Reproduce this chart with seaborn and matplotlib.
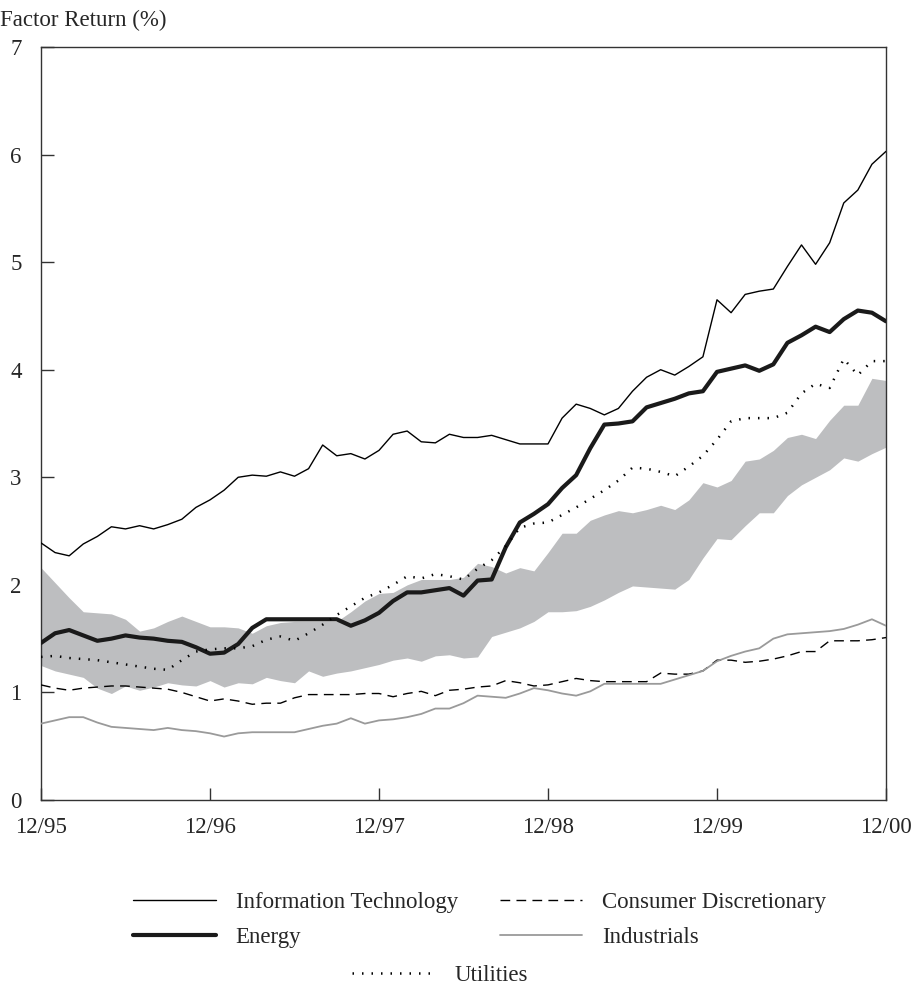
import pandas as pd
import seaborn as sns
import matplotlib.pyplot as plt
from matplotlib.lines import Line2D

# Monthly points, 12/95 .. 12/00
months = list(range(61))
tick_months = [0, 12, 24, 36, 48, 60]
tick_labels = ['12/95', '12/96', '12/97', '12/98', '12/99', '12/00']

info_tech = [2.39, 2.30, 2.27, 2.38, 2.45, 2.54, 2.52, 2.55, 2.52, 2.56,
             2.61, 2.72, 2.79, 2.88, 3.00, 3.02, 3.01, 3.05, 3.01, 3.08,
             3.30, 3.20, 3.22, 3.17, 3.25, 3.40, 3.43, 3.33, 3.32, 3.40,
             3.37, 3.37, 3.39, 3.35, 3.31, 3.31, 3.31, 3.55, 3.68, 3.64,
             3.58, 3.64, 3.80, 3.93, 4.00, 3.95, 4.03, 4.12, 4.65, 4.53,
             4.70, 4.73, 4.75, 4.96, 5.16, 4.98, 5.18, 5.55, 5.67, 5.91, 6.03]
energy = [1.46, 1.55, 1.58, 1.53, 1.48, 1.50, 1.53, 1.51, 1.50, 1.48,
          1.47, 1.42, 1.36, 1.37, 1.45, 1.60, 1.68, 1.68, 1.68, 1.68,
          1.68, 1.68, 1.62, 1.67, 1.74, 1.85, 1.93, 1.93, 1.95, 1.97,
          1.90, 2.04, 2.05, 2.35, 2.58, 2.66, 2.75, 2.90, 3.02, 3.27,
          3.49, 3.50, 3.52, 3.65, 3.69, 3.73, 3.78, 3.80, 3.98, 4.01,
          4.04, 3.99, 4.05, 4.25, 4.32, 4.40, 4.35, 4.47, 4.55, 4.53, 4.45]
utilities = [1.33, 1.34, 1.32, 1.31, 1.30, 1.28, 1.26, 1.24, 1.22, 1.21,
             1.30, 1.38, 1.40, 1.41, 1.41, 1.43, 1.49, 1.52, 1.48, 1.55,
             1.63, 1.72, 1.80, 1.88, 1.93, 2.00, 2.08, 2.06, 2.10, 2.08,
             2.05, 2.15, 2.23, 2.36, 2.53, 2.57, 2.58, 2.65, 2.72, 2.80,
             2.88, 2.97, 3.09, 3.08, 3.05, 3.01, 3.10, 3.20, 3.35, 3.52,
             3.55, 3.55, 3.55, 3.60, 3.78, 3.87, 3.83, 4.10, 3.95, 4.08, 4.08]
cons_disc = [1.07, 1.04, 1.02, 1.04, 1.05, 1.06, 1.06, 1.05, 1.04, 1.03,
             1.00, 0.96, 0.92, 0.94, 0.92, 0.89, 0.90, 0.90, 0.95, 0.98,
             0.98, 0.98, 0.98, 0.99, 0.99, 0.96, 0.99, 1.01, 0.97, 1.02,
             1.03, 1.05, 1.06, 1.11, 1.09, 1.06, 1.07, 1.10, 1.13, 1.11,
             1.10, 1.10, 1.10, 1.10, 1.18, 1.17, 1.17, 1.20, 1.30, 1.30,
             1.28, 1.29, 1.31, 1.34, 1.38, 1.38, 1.48, 1.48, 1.48, 1.49, 1.51]
industrials = [0.71, 0.74, 0.77, 0.77, 0.72, 0.68, 0.67, 0.66, 0.65, 0.67,
               0.65, 0.64, 0.62, 0.59, 0.62, 0.63, 0.63, 0.63, 0.63, 0.66,
               0.69, 0.71, 0.76, 0.71, 0.74, 0.75, 0.77, 0.80, 0.85, 0.85,
               0.90, 0.97, 0.96, 0.95, 0.99, 1.04, 1.02, 0.99, 0.97, 1.01,
               1.08, 1.08, 1.08, 1.08, 1.08, 1.12, 1.16, 1.20, 1.29, 1.34,
               1.38, 1.41, 1.50, 1.54, 1.55, 1.56, 1.57, 1.59, 1.63, 1.68, 1.62]
band_upper = [2.16, 2.02, 1.88, 1.75, 1.74, 1.73, 1.68, 1.57, 1.60, 1.66,
              1.71, 1.66, 1.61, 1.61, 1.60, 1.55, 1.62, 1.65, 1.66, 1.66,
              1.66, 1.66, 1.75, 1.85, 1.92, 1.93, 2.00, 2.05, 2.05, 2.05,
              2.07, 2.20, 2.17, 2.11, 2.16, 2.13, 2.30, 2.48, 2.48, 2.60,
              2.65, 2.69, 2.67, 2.70, 2.74, 2.70, 2.79, 2.95, 2.91, 2.97,
              3.15, 3.17, 3.25, 3.37, 3.40, 3.36, 3.53, 3.67, 3.67, 3.92, 3.90]
band_lower = [1.25, 1.20, 1.17, 1.14, 1.04, 0.99, 1.06, 1.02, 1.05, 1.09,
              1.07, 1.06, 1.11, 1.05, 1.09, 1.08, 1.14, 1.11, 1.09, 1.20,
              1.15, 1.18, 1.20, 1.23, 1.26, 1.30, 1.32, 1.29, 1.34, 1.35,
              1.32, 1.33, 1.52, 1.56, 1.60, 1.66, 1.75, 1.75, 1.76, 1.80,
              1.86, 1.93, 1.99, 1.98, 1.97, 1.96, 2.05, 2.25, 2.43, 2.42,
              2.55, 2.67, 2.67, 2.83, 2.93, 3.00, 3.07, 3.18, 3.15, 3.22, 3.28]

df = pd.DataFrame({
    'month': months,
    'Information Technology': info_tech,
    'Energy': energy,
    'Utilities': utilities,
    'Consumer Discretionary': cons_disc,
    'Industrials': industrials,
})

sns.set_theme(style='white')
plt.rcParams['font.family'] = ['Liberation Serif', 'DejaVu Serif']

FS = 16.5

fig = plt.figure(figsize=(9.19, 9.90), dpi=100)
ax = fig.add_axes([41 / 919, 1 - 800 / 990, 845 / 919, 753 / 990])

# серая полоса
ax.fill_between(df['month'], band_lower, band_upper, color='#bdbec0', lw=0, zorder=1)

styles = {
    'Information Technology': dict(color='black', lw=1.0, ls='-'),
    'Consumer Discretionary': dict(color='black', lw=1.0, ls=(0, (7, 4.5))),
    'Energy': dict(color='#1a1a1a', lw=3.0, ls='-'),
    'Industrials': dict(color='#9a9a9a', lw=1.3, ls='-'),
    'Utilities': dict(color='black', lw=1.8, ls=(0, (0.6, 3.2))),
}

for name, st in styles.items():
    sns.lineplot(x='month', y=name, data=df, ax=ax, color=st['color'],
                 linewidth=st['lw'], linestyle=st['ls'], zorder=3)

ax.set_xlim(0, 60)
ax.set_ylim(0, 7)
ax.set_xticks(tick_months)
ax.set_xticklabels(tick_labels)
ax.set_yticks(range(8))
ax.set_xlabel('')
ax.set_ylabel('')
ax.tick_params(axis='both', direction='in', length=9, width=1, color='#333333',
               labelsize=FS, bottom=True, left=True)
ax.tick_params(axis='x', pad=12)
ax.tick_params(axis='y', pad=14)
for s in ax.spines.values():
    s.set_color('#333333')
    s.set_linewidth(1.0)

fig.text(0.0, 1 - 20 / 990, 'Factor Return (%)', fontsize=FS, va='center', ha='left')

# Легенда
def handle(name):
    st = styles[name]
    return Line2D([], [], color=st['color'], lw=st['lw'], ls=st['ls'])

order = ['Information Technology', 'Energy', 'Consumer Discretionary', 'Industrials']
fig.legend([handle(n) for n in order], order, ncol=2, frameon=False,
           loc='center', bbox_to_anchor=(0.522, 1 - 920 / 990),
           fontsize=FS, handlelength=3.6, handletextpad=0.87,
           columnspacing=1.83, labelspacing=0.6, borderpad=0)
fig.legend([handle('Utilities')], ['Utilities'], frameon=False,
           loc='center', bbox_to_anchor=(0.479, 1 - 975 / 990),
           fontsize=FS, handlelength=3.6, handletextpad=0.87, borderpad=0)

plt.savefig('out.png', dpi=100)
